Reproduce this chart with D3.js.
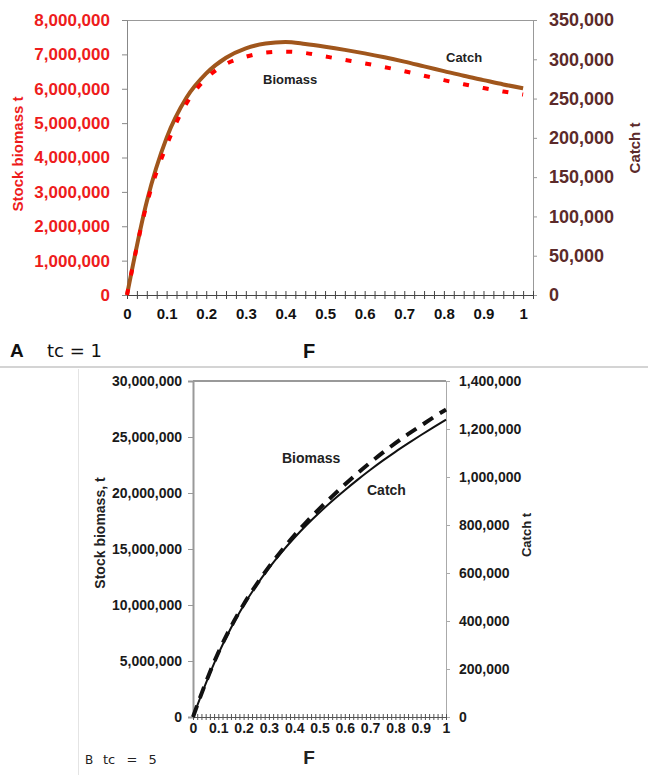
<!DOCTYPE html>
<html>
<head>
<meta charset="utf-8">
<script src="https://cdn.jsdelivr.net/npm/d3@7"></script>
<style>
  body { margin: 0; background: #fff; }
  svg { display: block; font-family: "Liberation Sans", Arial, sans-serif; }
</style>
</head>
<body>
<div id="chart"></div>
<script>
// fishing mortality values shared by both panels
const F_VALUES = [0, 0.05, 0.1, 0.15, 0.2, 0.25, 0.3, 0.35, 0.4, 0.45, 0.5,
  0.55, 0.6, 0.65, 0.7, 0.75, 0.8, 0.85, 0.9, 0.95, 1];

// panel A (tc = 1)
const BIOMASS_A = [0, 2650000, 4350000, 5570000, 6300000, 6720000, 6930000, 7050000, 7080000, 7040000, 6940000,
  6840000, 6740000, 6630000, 6510000, 6380000, 6250000, 6130000, 6020000, 5920000, 5830000];
const CATCH_A = [0, 119000, 200000, 251000, 282000, 302000, 314000, 320000, 322000, 319500, 316000,
  312000, 307500, 302500, 297000, 291000, 285000, 279000, 273500, 268000, 263000];

// panel B (tc = 5)
const BIOMASS_B = [0, 3050000, 5750000, 8050000, 10050000, 11800000, 13400000, 14850000, 16200000, 17450000, 18600000,
  19700000, 20750000, 21750000, 22700000, 23600000, 24450000, 25250000, 26000000, 26750000, 27450000];
const CATCH_B = [0, 138000, 263000, 371000, 465000, 547000, 620000, 686000, 746000, 801000, 852000,
  900000, 945000, 988000, 1029000, 1068000, 1105000, 1140000, 1174000, 1207000, 1239000];

const F_LABELS = [0, 0.1, 0.2, 0.3, 0.4, 0.5, 0.6, 0.7, 0.8, 0.9, 1];
const BIOMASS_TICKS_A = [0, 1000000, 2000000, 3000000, 4000000, 5000000, 6000000, 7000000, 8000000];
const CATCH_TICKS_A = [0, 50000, 100000, 150000, 200000, 250000, 300000, 350000];
const BIOMASS_TICKS_B = [0, 5000000, 10000000, 15000000, 20000000, 25000000, 30000000];
const CATCH_TICKS_B = [0, 200000, 400000, 600000, 800000, 1000000, 1200000, 1400000];

const WIDTH = 648;
const HEIGHT = 775;
const RED = '#ee1c1c';
const MAROON = '#5c2a2a';
const BROWN = '#a0561c';

const fmt = d3.format(',');
const fmtF = d3.format('.1~f');

const svg = d3.select('#chart').append('svg')
  .attr('width', WIDTH)
  .attr('height', HEIGHT);

// separators of the two pasted figures
svg.append('line').attr('x1', 0).attr('x2', WIDTH).attr('y1', 367).attr('y2', 367)
  .attr('stroke', '#d4d4d4').attr('stroke-width', 2);
svg.append('line').attr('x1', 78.5).attr('x2', 78.5).attr('y1', 369).attr('y2', HEIGHT)
  .attr('stroke', '#e4e4e4');

function styleAxis(g, lineColor, textColor, size) {
  g.select('.domain').attr('stroke', lineColor);
  g.selectAll('.tick line').attr('stroke', lineColor);
  g.selectAll('.tick text')
    .attr('fill', textColor)
    .attr('font-size', size)
    .attr('font-weight', 'bold');
}

// ---------- panel A ----------
const xA = d3.scaleLinear().domain([0, 1.025]).range([127, 533]);
const yA = d3.scaleLinear().domain([0, 8000000]).range([295, 20]);
const yA2 = d3.scaleLinear().domain([0, 350000]).range([295, 20]);

svg.append('line').attr('x1', xA.range()[0]).attr('x2', xA.range()[1])
  .attr('y1', 20.5).attr('y2', 20.5).attr('stroke', '#999');

svg.append('g')
  .attr('transform', 'translate(127,0)')
  .call(d3.axisLeft(yA).tickValues(BIOMASS_TICKS_A).tickFormat(fmt).tickSizeOuter(0).tickSize(5).tickPadding(12))
  .call(g => styleAxis(g, '#888', RED, 17));

svg.append('g')
  .attr('transform', 'translate(533,0)')
  .call(d3.axisRight(yA2).tickValues(CATCH_TICKS_A).tickFormat(fmt).tickSizeOuter(0).tickSize(4).tickPadding(12))
  .call(g => styleAxis(g, '#999', MAROON, 18));

const minorA = d3.range(0, 42).map(i => i * 0.025);
svg.append('g')
  .attr('transform', 'translate(0,295)')
  .call(d3.axisBottom(xA).tickValues(minorA).tickFormat('').tickSizeOuter(0).tickSize(4))
  .call(g => styleAxis(g, '#444', '#000', 15));
svg.append('g')
  .attr('transform', 'translate(0,295)')
  .call(d3.axisTop(xA).tickValues(minorA).tickFormat('').tickSizeOuter(0).tickSize(4))
  .call(g => styleAxis(g, '#444', '#000', 15));
svg.append('g')
  .attr('transform', 'translate(0,295)')
  .call(d3.axisBottom(xA).tickValues(F_LABELS).tickFormat(fmtF).tickSize(0).tickPadding(13))
  .call(g => g.select('.domain').remove())
  .call(g => styleAxis(g, '#444', '#111', 15));

const lineA1 = d3.line().x((d, i) => xA(F_VALUES[i])).y(d => yA(d)).curve(d3.curveMonotoneX);
const lineA2 = d3.line().x((d, i) => xA(F_VALUES[i])).y(d => yA2(d)).curve(d3.curveMonotoneX);

svg.append('path').datum(CATCH_A)
  .attr('d', lineA2).attr('fill', 'none')
  .attr('stroke', BROWN).attr('stroke-width', 4);
svg.append('path').datum(BIOMASS_A)
  .attr('d', lineA1).attr('fill', 'none')
  .attr('stroke', '#ff0000').attr('stroke-width', 4)
  .attr('stroke-dasharray', '6,14');

svg.append('text').attr('x', 263).attr('y', 84)
  .attr('font-size', 13).attr('font-weight', 'bold').attr('fill', '#222').text('Biomass');
svg.append('text').attr('x', 446).attr('y', 62)
  .attr('font-size', 13).attr('font-weight', 'bold').attr('fill', '#222').text('Catch');

svg.append('text')
  .attr('transform', 'translate(23,154) rotate(-90)')
  .attr('text-anchor', 'middle')
  .attr('font-size', 15).attr('font-weight', 'bold').attr('fill', RED)
  .text('Stock biomass t');
svg.append('text')
  .attr('transform', 'translate(640,148) rotate(-90)')
  .attr('text-anchor', 'middle')
  .attr('font-size', 15).attr('font-weight', 'bold').attr('fill', MAROON)
  .text('Catch t');

svg.append('text').attr('x', 309).attr('y', 358).attr('text-anchor', 'middle')
  .attr('font-size', 20).attr('font-weight', 'bold').attr('fill', '#111').text('F');
svg.append('text').attr('x', 10).attr('y', 357)
  .attr('font-size', 19).attr('font-weight', 'bold').attr('fill', '#111').text('A');
svg.append('text').attr('x', 47).attr('y', 357)
  .attr('font-family', '"DejaVu Sans", sans-serif')
  .attr('font-size', 18).attr('fill', '#111').text('tc = 1');

// ---------- panel B ----------
const xB = d3.scaleLinear().domain([0, 1]).range([193, 446]);
const yB = d3.scaleLinear().domain([0, 30000000]).range([717, 381]);
const yB2 = d3.scaleLinear().domain([0, 1400000]).range([717, 381]);

svg.append('line').attr('x1', 193).attr('x2', 446)
  .attr('y1', 381).attr('y2', 381).attr('stroke', '#999').attr('stroke-width', 2);

svg.append('g')
  .attr('transform', 'translate(193,0)')
  .call(d3.axisLeft(yB).tickValues(BIOMASS_TICKS_B).tickFormat(fmt).tickSizeOuter(0).tickSize(5).tickPadding(6))
  .call(g => styleAxis(g, '#999', '#1a1a1a', 14))
  .call(g => g.select('.domain').attr('stroke-width', 2));

svg.append('g')
  .attr('transform', 'translate(446,0)')
  .call(d3.axisRight(yB2).tickValues(CATCH_TICKS_B).tickFormat(fmt).tickSizeOuter(0).tickSize(4).tickPadding(9))
  .call(g => styleAxis(g, '#aaa', '#1a1a1a', 14));

const minorB = d3.range(0, 61).map(i => i / 60);
svg.append('g')
  .attr('transform', 'translate(0,717)')
  .call(d3.axisBottom(xB).tickValues(minorB).tickFormat('').tickSizeOuter(0).tickSize(3))
  .call(g => styleAxis(g, '#555', '#000', 14));
svg.append('g')
  .attr('transform', 'translate(0,717)')
  .call(d3.axisTop(xB).tickValues(minorB).tickFormat('').tickSizeOuter(0).tickSize(3))
  .call(g => styleAxis(g, '#555', '#000', 14));
svg.append('g')
  .attr('transform', 'translate(0,717)')
  .call(d3.axisBottom(xB).tickValues(F_LABELS).tickFormat(fmtF).tickSize(0).tickPadding(6))
  .call(g => g.select('.domain').remove())
  .call(g => styleAxis(g, '#555', '#1a1a1a', 14));

const lineB1 = d3.line().x((d, i) => xB(F_VALUES[i])).y(d => yB(d)).curve(d3.curveMonotoneX);
const lineB2 = d3.line().x((d, i) => xB(F_VALUES[i])).y(d => yB2(d)).curve(d3.curveMonotoneX);

svg.append('path').datum(CATCH_B)
  .attr('d', lineB2).attr('fill', 'none')
  .attr('stroke', '#111').attr('stroke-width', 2);
svg.append('path').datum(BIOMASS_B)
  .attr('d', lineB1).attr('fill', 'none')
  .attr('stroke', '#111').attr('stroke-width', 4)
  .attr('stroke-dasharray', '12,8');

svg.append('text').attr('x', 282).attr('y', 463)
  .attr('font-size', 14).attr('font-weight', 'bold').attr('fill', '#222').text('Biomass');
svg.append('text').attr('x', 367).attr('y', 495)
  .attr('font-size', 14).attr('font-weight', 'bold').attr('fill', '#222').text('Catch');

svg.append('text')
  .attr('transform', 'translate(105,533) rotate(-90)')
  .attr('text-anchor', 'middle')
  .attr('font-size', 14).attr('font-weight', 'bold').attr('fill', '#222')
  .text('Stock biomass, t');
svg.append('text')
  .attr('transform', 'translate(531,535) rotate(-90)')
  .attr('text-anchor', 'middle')
  .attr('font-size', 13).attr('font-weight', 'bold').attr('fill', '#222')
  .text('Catch t');

svg.append('text').attr('x', 309).attr('y', 764).attr('text-anchor', 'middle')
  .attr('font-size', 19).attr('font-weight', 'bold').attr('fill', '#222').text('F');
svg.append('text').attr('x', 85).attr('y', 764)
  .attr('font-family', '"DejaVu Sans", sans-serif')
  .attr('font-size', 12).attr('fill', '#222').text('B');
svg.append('text').attr('x', 103).attr('y', 764)
  .attr('font-family', '"DejaVu Sans", sans-serif')
  .attr('font-size', 13).attr('word-spacing', 7).attr('fill', '#222').text('tc = 5');
</script>
</body>
</html>
